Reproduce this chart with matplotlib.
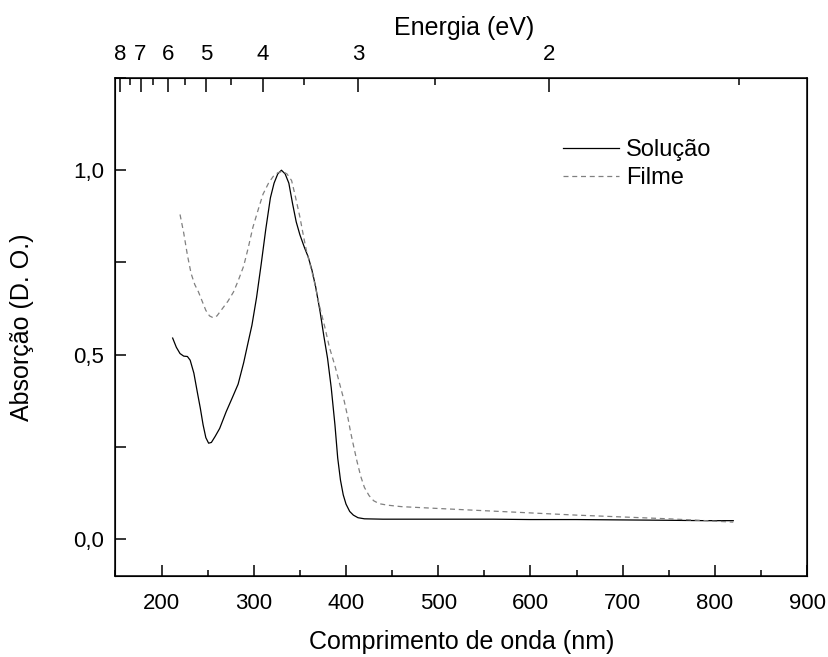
import matplotlib.pyplot as plt
from matplotlib.ticker import MultipleLocator, FixedLocator

plt.rcParams['font.family'] = ['Liberation Sans', 'DejaVu Sans']

# Solução (solid)
sol_wl = [212, 216, 220, 224, 228, 231, 235, 239, 242, 245, 248, 251, 254, 258,
          263, 270, 277, 283, 289, 294, 298, 303, 308, 313, 318, 322, 326, 330,
          334, 338, 342, 346, 350, 355, 359, 363, 367, 372, 376, 380, 384, 388,
          391, 394, 397, 400, 404, 408, 413, 420, 440, 480, 520, 560, 600, 650,
          700, 750, 790, 820]
sol_abs = [0.545, 0.52, 0.503, 0.496, 0.495, 0.485, 0.45, 0.395, 0.355, 0.31,
           0.275, 0.26, 0.262, 0.278, 0.30, 0.345, 0.385, 0.42, 0.478, 0.535,
           0.58, 0.655, 0.745, 0.84, 0.925, 0.965, 0.99, 1.0, 0.99, 0.965, 0.91,
           0.86, 0.825, 0.79, 0.765, 0.73, 0.685, 0.615, 0.55, 0.49, 0.41, 0.31,
           0.22, 0.16, 0.12, 0.095, 0.075, 0.065, 0.058, 0.055, 0.054, 0.054,
           0.054, 0.054, 0.053, 0.053, 0.052, 0.051, 0.05, 0.05]

# Filme (dashed)
fil_wl = [220, 224, 228, 232, 236, 240, 244, 248, 252, 256, 260, 266, 272, 278,
          283, 289, 294, 299, 305, 310, 316, 321, 326, 331, 336, 341, 345, 350,
          354, 357, 361, 365, 371, 377, 382, 388, 393, 398, 402, 405, 408, 412,
          416, 420, 425, 430, 436, 445, 460, 500, 550, 600, 650, 700, 750, 790,
          820]
fil_abs = [0.88, 0.83, 0.77, 0.72, 0.69, 0.67, 0.645, 0.62, 0.605, 0.6, 0.605,
           0.625, 0.645, 0.67, 0.70, 0.74, 0.79, 0.845, 0.895, 0.935, 0.965,
           0.983, 0.993, 0.997, 0.99, 0.972, 0.93, 0.873, 0.82, 0.783, 0.745,
           0.705, 0.635, 0.575, 0.52, 0.47, 0.422, 0.375, 0.33, 0.29, 0.255,
           0.21, 0.17, 0.14, 0.118, 0.104, 0.096, 0.092, 0.088, 0.083, 0.077,
           0.071, 0.065, 0.06, 0.055, 0.05, 0.046]

energy_major = [8, 7, 6, 5, 4, 3, 2]
energy_minor = [7.5, 6.5, 5.5, 4.5, 3.5, 2.5, 1.5]

fig = plt.figure(figsize=(8.29, 6.57), dpi=100)
ax = fig.add_axes([0.1393, 0.1233, 0.8342, 0.758])

ax.plot(sol_wl, sol_abs, color='black', linewidth=0.9, label='Solução')
ax.plot(fil_wl, fil_abs, color='#808080', linewidth=0.9,
        linestyle=(0, (4, 3)), label='Filme')

ax.set_xlim(150, 900)
ax.set_ylim(-0.1, 1.25)

ax.xaxis.set_major_locator(MultipleLocator(100))
ax.xaxis.set_minor_locator(MultipleLocator(50))
ax.yaxis.set_major_locator(MultipleLocator(0.5))
ax.yaxis.set_minor_locator(MultipleLocator(0.25))
ax.yaxis.set_major_formatter(plt.FuncFormatter(lambda v, p: f'{v:.1f}'.replace('.', ',')))

ax.tick_params(axis='x', which='major', direction='in', length=8, width=1.1,
               labelsize=16, pad=12, top=False)
ax.tick_params(axis='x', which='minor', direction='in', length=4, width=1.1, top=False)
ax.tick_params(axis='y', which='both', direction='in', length=8, width=1.1,
               labelsize=16, pad=8, right=False)
for s in ax.spines.values():
    s.set_linewidth(1.1)

ax.set_xlabel('Comprimento de onda (nm)', fontsize=18)
ax.set_ylabel('Absorção (D. O.)', fontsize=18)
ax.xaxis.set_label_coords(0.5, -0.108)
ax.yaxis.set_label_coords(-0.118, 0.5)

# top energy axis
ax2 = ax.twiny()
ax2.set_xlim(ax.get_xlim())
ax2.xaxis.set_major_locator(FixedLocator([1240 / e for e in energy_major]))
ax2.xaxis.set_minor_locator(FixedLocator([1240 / e for e in energy_minor]))
ax2.set_xticklabels([str(e) for e in energy_major])
ax2.tick_params(axis='x', which='major', direction='in', length=10, width=1.1,
                labelsize=16, pad=9)
ax2.tick_params(axis='x', which='minor', direction='in', length=5, width=1.1)
ax2.set_xlabel('Energia (eV)', fontsize=18)
ax2.xaxis.set_label_coords(0.504, 1.086)

ax.legend(loc='upper left', bbox_to_anchor=(0.6466, 0.8775), frameon=False,
          fontsize=17, handlelength=2.4, handletextpad=0.3, labelspacing=0.26,
          borderpad=0, borderaxespad=0)

fig.savefig('out.png', dpi=100)
